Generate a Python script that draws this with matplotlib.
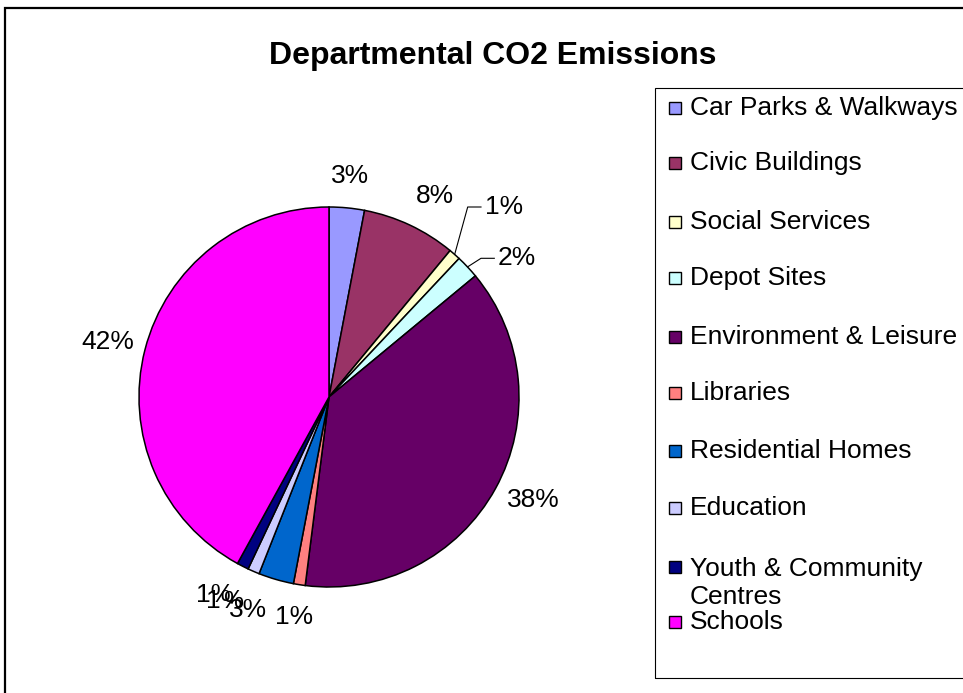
import numpy as np
import matplotlib
matplotlib.use("Agg")
import matplotlib.pyplot as plt
from matplotlib.patches import Rectangle

plt.rcParams['font.family'] = ['Liberation Sans', 'DejaVu Sans']

# Departmental share of CO2 emissions (%)
departments = [
    "Car Parks & Walkways",
    "Civic Buildings",
    "Social Services",
    "Depot Sites",
    "Environment & Leisure",
    "Libraries",
    "Residential Homes",
    "Education",
    "Youth & Community\nCentres",
    "Schools",
]
shares = [3, 8, 1, 2, 38, 1, 3, 1, 1, 42]
colors = ["#9999FF", "#993366", "#FFFFCC", "#CCFFFF", "#660066",
          "#FF8080", "#0066CC", "#CCCCFF", "#000080", "#FF00FF"]

W, H = 963, 693
FS = 19
fig = plt.figure(figsize=(W / 100, H / 100), dpi=100)

# outer chart frame (runs off the right and bottom edges)
fig.patches.append(Rectangle((5 / W, -0.05), 1.1, 1 - 8 / H + 0.05,
                             transform=fig.transFigure, fill=False,
                             edgecolor="black", linewidth=1.6))

fig.text(493 / W, 1 - 56 / H, "Departmental CO2 Emissions",
         ha="center", va="center", fontsize=23, fontweight="bold")

# pie axes: radius 1 -> 190 px, centre at (329, 397)
R = 190
k = 1.5
cx, cy = 329, 397
ax = fig.add_axes([(cx - R * k) / W, (H - cy - R * k) / H,
                   2 * R * k / W, 2 * R * k / H])

wedges, _ = ax.pie(shares, colors=colors, startangle=90, counterclock=False,
                   radius=1.0, wedgeprops=dict(edgecolor="black", linewidth=1.1))
ax.set_xlim(-k, k)
ax.set_ylim(-k, k)
ax.set_aspect("equal")
ax.axis("off")

# label placement tweaks (in data units) for crowded slices
nudges = {1: (0.06, 0.0), 4: (0.05, 0.02), 9: (-0.03, 0.0),
          6: (-0.1, 0.0), 7: (-0.085, 0.0), 8: (-0.07, 0.0)}
leader = {2: (0.73, 1.0), 3: (0.8, 0.73)}

for i, (w, v) in enumerate(zip(wedges, shares)):
    mid = np.deg2rad((w.theta1 + w.theta2) / 2)
    txt = f"{v}%"
    if i in leader:
        ex, ey = np.cos(mid), np.sin(mid)
        kx, ky = leader[i]
        ax.plot([ex, kx, kx + 0.07], [ey, ky, ky], color="black", lw=0.8)
        ax.text(kx + 0.09, ky, txt, ha="left", va="center", fontsize=FS)
        continue
    x, y = 1.17 * np.cos(mid), 1.17 * np.sin(mid)
    dx, dy = nudges.get(i, (0, 0))
    ax.text(x + dx, y + dy, txt, ha="center", va="center", fontsize=FS)

# legend box
fig.patches.append(Rectangle((655 / W, 1 - 678 / H), 0.5, (678 - 88) / H,
                             transform=fig.transFigure, fill=False,
                             edgecolor="black", linewidth=0.8))
ys = [108, 163, 222, 278, 337, 393, 451, 508, 567, 622]
s = 12
for name, col, y in zip(departments, colors, ys):
    fig.patches.append(Rectangle((669 / W, 1 - (y + s / 2) / H), s / W, s / H,
                                 transform=fig.transFigure, facecolor=col,
                                 edgecolor="black", linewidth=1.0))
    ty = y + 16 if "\n" in name else y
    fig.text(690 / W, 1 - ty / H, name, ha="left", va="center",
             fontsize=FS, linespacing=1.25)

fig.savefig("out.png", dpi=100)
